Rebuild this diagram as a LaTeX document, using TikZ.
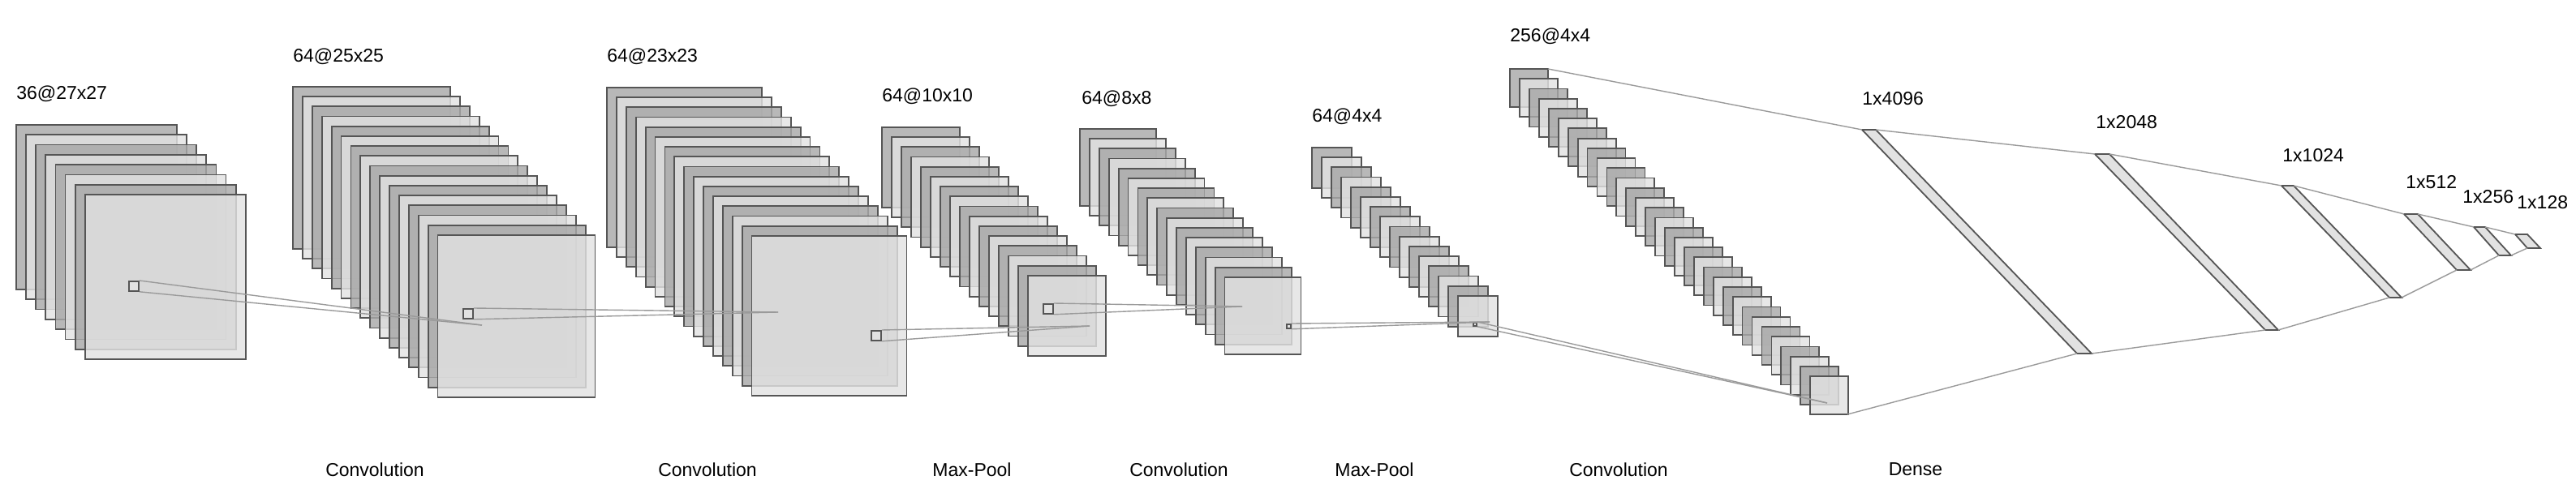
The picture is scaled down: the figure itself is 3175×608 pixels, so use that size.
\documentclass[tikz,border=0pt]{standalone}
\usepackage{fontspec}
\setmainfont{Liberation Sans}
\definecolor{fmdark}{HTML}{A8A8A8}
\definecolor{fmlight}{HTML}{E2E2E2}
\definecolor{fmedge}{HTML}{555555}
\definecolor{fmline}{HTML}{9A9A9A}
\newcommand\fmtxt[1]{#1}
\newcommand\fmstack[8]{%
  \foreach \i in {0,...,\numexpr#8-1\relax}{%
    \pgfmathsetmacro\fmx{#2+\i*#6}\pgfmathsetmacro\fmy{#3+\i*#7}%
    \pgfmathparse{int(mod(\i,2))}%
    \ifnum\pgfmathresult=0 \def\fmc{fmdark}\else\def\fmc{fmlight}\fi
    \draw[fmap,fill=\fmc] (\fmx,\fmy) rectangle ++(#4,#5);
  }%
}
\begin{document}
\begin{tikzpicture}[x=0.5pt,y=-0.5pt,
  fmap/.style={draw=fmedge,line width=0.9pt,fill opacity=0.82},
  lab/.style={font=\fontsize{11.5}{13}\selectfont,inner sep=0pt,anchor=west},
  blab/.style={font=\fontsize{11.5}{13}\selectfont,inner sep=0pt},
  conn/.style={draw=fmline,line width=0.7pt},
  kern/.style={draw=fmedge,line width=0.9pt,fill=fmlight},
  bar/.style={draw=fmedge,line width=0.9pt,fill=fmlight}]
\useasboundingbox (0,0) rectangle (3175,608);
% stacks
\fmstack{a}{20}{154}{198}{203}{12.1}{12.3}{8}
\fmstack{b}{361}{107}{194}{200}{11.9}{12.2}{16}
\fmstack{c}{748}{108}{191}{197}{11.9}{12.2}{16}
\fmstack{d}{1087}{157}{96}{99}{12}{12.2}{16}
\fmstack{e}{1331}{159}{94}{95}{11.9}{12.2}{16}
\fmstack{f}{1617}{182}{49}{50}{12}{12.2}{16}
\fmstack{g}{1861}{85}{47}{47}{11.94}{12.23}{32}
% kernels and connectors
\coordinate (pb) at (594,401); \coordinate (pc) at (959,385);
\coordinate (pd) at (1343,402); \coordinate (pe) at (1531,378);
\coordinate (pf) at (1836,397); \coordinate (pg) at (2252,497);
\node[kern,minimum size=6pt,inner sep=0pt,anchor=north west] (ka) at (158,346) {};
\node[kern,minimum size=6pt,inner sep=0pt,anchor=north west] (kb) at (570,380) {};
\node[kern,minimum size=6pt,inner sep=0pt,anchor=north west] (kc) at (1073,407) {};
\node[kern,minimum size=6pt,inner sep=0pt,anchor=north west] (kd) at (1285,374) {};
\node[kern,minimum size=2.5pt,inner sep=0pt,anchor=north west] (ke) at (1585,399) {};
\node[kern,minimum size=2pt,inner sep=0pt,anchor=north west] (kf) at (1815,397) {};
\foreach \k/\p in {ka/pb,kb/pc,kc/pd,kd/pe,ke/pf,kf/pg}{
  \draw[conn] (\k.north east) -- (\p);
  \draw[conn] (\k.south east) -- (\p);
}
% dense bars
\coordinate (t0) at (1908,85); \coordinate (b0) at (2277,511);
\foreach \n/\ta/\tb/\ty/\ba/\bb/\by in {1/2295/2312/160/2560/2578/436,2/2582/2600/190/2792/2808/407,3/2812/2827/229/2945/2960/367,4/2963/2980/264/3028/3045/333,5/3049/3063/280/3080/3095/315,6/3100/3115/289/3115/3131/306}{
  \draw[bar] (\ta,\ty) coordinate (tl\n) -- (\tb,\ty) coordinate (tr\n) -- (\bb,\by) coordinate (br\n) -- (\ba,\by) coordinate (bl\n) -- cycle;
}
\coordinate (tr0) at (t0); \coordinate (br0) at (b0);
\foreach \m/\n in {0/1,1/2,2/3,3/4,4/5,5/6}{
  \draw[conn] (tr\m) -- (tl\n);
  \draw[conn] (br\m) -- (bl\n);
}
% labels
\node[lab] (la) at (20,116) {\fmtxt{36@27x27}};
\node[lab] (lb) at (361,70) {\fmtxt{64@25x25}};
\node[lab] (lc) at (748,70) {\fmtxt{64@23x23}};
\node[lab] (ld) at (1087,119) {\fmtxt{64@10x10}};
\node[lab] (le) at (1333,122) {\fmtxt{64@8x8}};
\node[lab] (lf) at (1617,144) {\fmtxt{64@4x4}};
\node[lab] (lg) at (1861,45) {\fmtxt{256@4x4}};
\node[lab] (l1) at (2295,122) {\fmtxt{1x4096}};
\node[lab] (l2) at (2583,151) {\fmtxt{1x2048}};
\node[lab] (l3) at (2813,192) {\fmtxt{1x1024}};
\node[lab] (l4) at (2965,225) {\fmtxt{1x512}};
\node[lab] (l5) at (3035,243) {\fmtxt{1x256}};
\node[lab] (l6) at (3102,250) {\fmtxt{1x128}};
\foreach \x/\t [count=\j] in {462/Convolution,872/Convolution,1198/Max-Pool,1453/Convolution,1694/Max-Pool,1995/Convolution,2361/Dense}{
  \node[blab] (bl-\j) at (\x,579) {\fmtxt{\t}};
}
\end{tikzpicture}
\end{document}
